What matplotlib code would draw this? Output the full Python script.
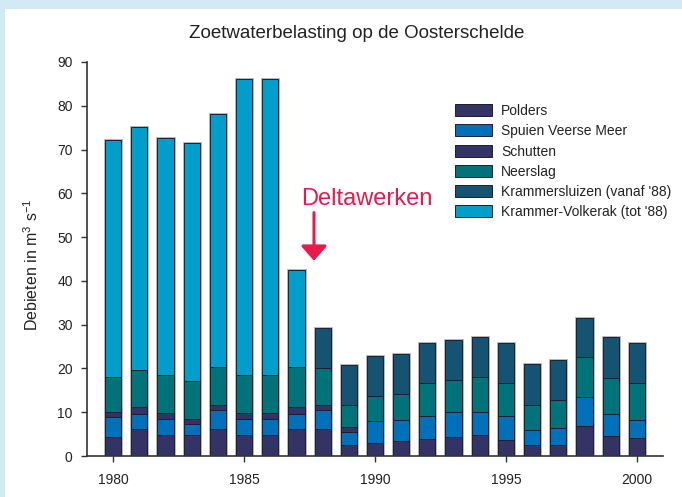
import numpy as np
import matplotlib
matplotlib.use('Agg')
import matplotlib.pyplot as plt
from matplotlib.patches import Rectangle

plt.rcParams['font.family'] = ['Liberation Sans', 'DejaVu Sans']
plt.rcParams['mathtext.fontset'] = 'custom'
plt.rcParams['mathtext.rm'] = 'Liberation Sans'
plt.rcParams['mathtext.it'] = 'Liberation Sans:italic'

years = np.arange(1980, 2001)

# Debieten per bron (m3/s), van onder naar boven gestapeld
polders = [4.3, 6.2, 4.8, 4.8, 6.2, 4.8, 4.8, 6.2, 6.2, 2.4, 3.0,
           3.4, 3.9, 4.3, 4.8, 3.7, 2.4, 2.4, 6.8, 4.6, 4.1]
spuien = [4.6, 3.5, 3.6, 2.5, 4.3, 3.6, 3.6, 3.5, 4.2, 3.1, 4.9,
          4.9, 5.3, 5.7, 5.2, 5.4, 3.5, 4.0, 6.6, 5.1, 4.2]
schutten = [1.1, 1.4, 1.4, 1.1, 1.1, 1.4, 1.4, 1.4, 1.2, 1.1, 0.1,
            0, 0, 0, 0, 0, 0, 0, 0, 0, 0]
neerslag = [8.0, 8.5, 8.7, 8.7, 8.7, 8.7, 8.7, 9.2, 8.6, 5.0, 5.7,
            5.9, 7.4, 7.4, 8.0, 7.6, 5.8, 6.5, 9.2, 8.2, 8.3]
krammersluizen = [0, 0, 0, 0, 0, 0, 0, 0, 9.1, 9.1, 9.1,
                  9.0, 9.1, 9.2, 9.2, 9.2, 9.3, 9.1, 9.0, 9.2, 9.1]
krammer_volkerak = [54.2, 55.6, 54.2, 54.4, 57.9, 67.7, 67.7, 22.2, 0, 0, 0,
                    0, 0, 0, 0, 0, 0, 0, 0, 0, 0]

series = [
    ('Polders', polders, '#333366'),
    ('Spuien Veerse Meer', spuien, '#0070b8'),
    ('Schutten', schutten, '#333366'),
    ('Neerslag', neerslag, '#00727a'),
    ("Krammersluizen (vanaf '88)", krammersluizen, '#145472'),
    ("Krammer-Volkerak (tot '88)", krammer_volkerak, '#009ecb'),
]

width = 0.62
text_color = '#222222'

fig = plt.figure(figsize=(6.82, 4.97), dpi=100)
fig.patch.set_facecolor('#d2eaf4')
fig.add_artist(Rectangle((5 / 682, 0), 1, 1 - 9 / 497, transform=fig.transFigure,
                         facecolor='white', edgecolor='none', zorder=0))

ax = fig.add_axes([87 / 682, 41 / 497, 576 / 682, 394 / 497])
ax.set_facecolor('none')

totals = np.sum([np.array(s[1]) for s in series], axis=0)
# faint grey halo around each full bar
ax.bar(years, totals, width, color='none', edgecolor='#b0b0b0', linewidth=2.0, zorder=1)

bottom = np.zeros(len(years))
handles = []
for label, values, colour in series:
    values = np.array(values, dtype=float)
    keep = values > 0
    ax.bar(years[keep], values[keep], width, bottom=bottom[keep], color=colour,
           edgecolor='#1e1e2e', linewidth=0.7, zorder=2)
    handles.append(Rectangle((0, 0), 1, 1, facecolor=colour, edgecolor='#1e1e2e', linewidth=0.7))
    bottom += values

ax.set_xlim(1979, 2001)
ax.set_ylim(0, 90)
ax.set_xticks([1980, 1985, 1990, 1995, 2000])
ax.set_yticks(np.arange(0, 91, 10))
for side in ('top', 'right'):
    ax.spines[side].set_visible(False)
for side in ('left', 'bottom'):
    ax.spines[side].set_color('#333333')
    ax.spines[side].set_linewidth(1.2)
ax.tick_params(direction='out', length=4.3, width=1, colors='#333333',
               labelcolor=text_color, labelsize=10)
ax.tick_params(axis='y', pad=6)
ax.tick_params(axis='x', pad=8)

fig.text(32 / 682, 1 - 265 / 497, r'Debieten in m$^{\mathrm{3}}$ s$^{\mathrm{-1}}$',
         rotation=90, ha='center', va='center', fontsize=11.5, color=text_color)

fig.text(357 / 682, 1 - 33 / 497, 'Zoetwaterbelasting op de Oosterschelde',
         ha='center', va='center', fontsize=13.5, color=text_color)

red = '#e8194c'
ax.text(1989.7, 58.6, 'Deltawerken', ha='center', va='center', fontsize=17, color=red)
ax.annotate('', xy=(1987.67, 44.6), xytext=(1987.67, 55.6),
            arrowprops=dict(arrowstyle='-|>,head_width=0.44,head_length=0.5',
                            mutation_scale=18, color=red, lw=2.2,
                            shrinkA=0, shrinkB=0))

ax.legend(handles, [s[0] for s in series], loc='upper left',
          bbox_to_anchor=(455 / 682, 1 - 104 / 497), bbox_transform=fig.transFigure,
          frameon=False, fontsize=10, handlelength=2.65, handleheight=0.95,
          labelspacing=0.45, handletextpad=0.65, borderpad=0, borderaxespad=0,
          labelcolor=text_color)

fig.savefig('out.png', dpi=100)
